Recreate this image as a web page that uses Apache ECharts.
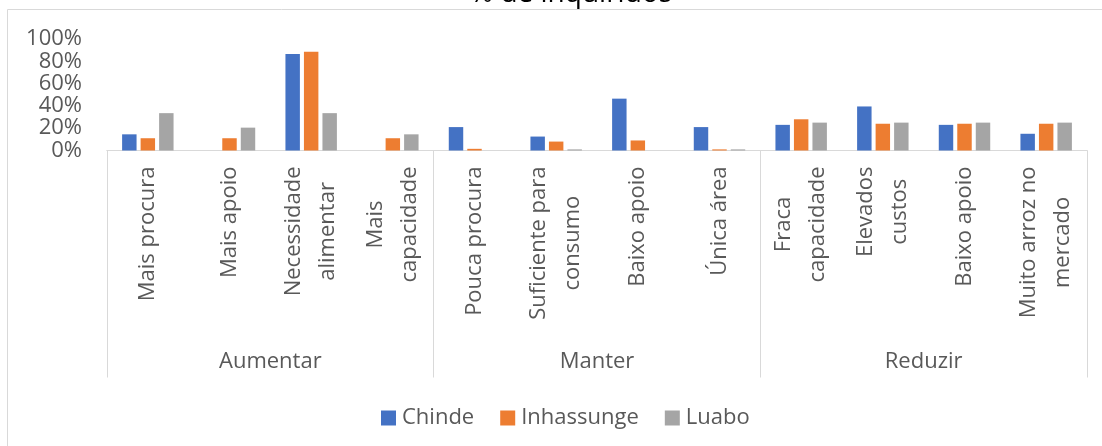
<!DOCTYPE html>
<html>
<head>
<meta charset="utf-8">
<script src="https://cdn.jsdelivr.net/npm/echarts@6/dist/echarts.min.js"></script>
<style>
html,body{margin:0;padding:0;background:#fff;}
#chart{width:1102px;height:446px;}
</style>
</head>
<body>
<div id="chart"></div>
<script>
var categories = ['Mais procura','Mais apoio','Necessidade\nalimentar','Mais\ncapacidade',
  'Pouca procura','Suficiente para\nconsumo','Baixo apoio','Única área',
  'Fraca\ncapacidade','Elevados\ncustos','Baixo apoio','Muito arroz no\nmercado'];
var groups = ['Aumentar','Manter','Reduzir'];
var chinde = [14.5, 0, 86.5, 0, 21, 12.5, 46.5, 21, 23, 39.5, 23, 15];
var inhassunge = [11, 11, 88.5, 11, 1.5, 8, 9, 1, 28, 24, 24, 24];
var luabo = [33.5, 20.5, 33.5, 14.5, 0, 1, 0, 1, 25, 25, 25, 25];
var yTicks = [0, 20, 40, 60, 80, 100];

var FONT = 'Open Sans';
var GRAY = '#595959';
var LINE = '#d9d9d9';

var chart = echarts.init(document.getElementById('chart'));
var mk = function(name, data, color){
  return {name: name, type: 'bar', data: data, xAxisIndex: 0,
    barGap: '28%', barCategoryGap: '37%', itemStyle: {color: color}};
};
chart.setOption({
  animation: false,
  title: {text: '% de inquiridos', left: 470, top: -20, padding: 0,
    textStyle: {fontFamily: FONT, fontSize: 28, fontWeight: 'normal', color: '#000'}},
  graphic: [{type: 'rect', silent: true,
    shape: {x: 7.5, y: 9.5, width: 1110, height: 460},
    style: {fill: 'none', stroke: LINE, lineWidth: 1}}],
  legend: {left: 381, top: 407, padding: 0, itemWidth: 15, itemHeight: 15, itemGap: 26,
    icon: 'rect',
    textStyle: {fontFamily: FONT, fontSize: 22, color: GRAY, padding: [0,0,0,1]},
    data: ['Chinde','Inhassunge','Luabo']},
  grid: {left: 107, right: 15, top: 39, height: 111.5, containLabel: false},
  yAxis: {type: 'value', min: yTicks[0], max: yTicks[yTicks.length-1], interval: 20,
    axisLine: {show: false}, axisTick: {show: false}, splitLine: {show: false},
    axisLabel: {formatter: '{value}%', margin: 25, fontFamily: FONT, fontSize: 22, color: GRAY}},
  xAxis: [{type: 'category', data: categories, position: 'bottom',
      axisLine: {show: true, lineStyle: {color: LINE}},
      axisTick: {show: false},
      axisLabel: {interval: 0, rotate: 90, margin: 16, color: GRAY,
        formatter: function(v){ return v.split('\n').map(function(l){return '{c|' + l + '}';}).join('\n'); },
        rich: {c: {align: 'center', fontFamily: FONT, fontSize: 22, color: GRAY, lineHeight: 34}}}},
    {type: 'category', data: groups, position: 'bottom', offset: 0,
      axisLine: {show: true, lineStyle: {color: LINE}},
      axisTick: {show: true, length: 227, lineStyle: {color: LINE}},
      axisLabel: {interval: 0, margin: 200, fontFamily: FONT, fontSize: 22, color: GRAY}}],
  series: [mk('Chinde', chinde, '#4472C4'), mk('Inhassunge', inhassunge, '#ED7D31'), mk('Luabo', luabo, '#A5A5A5')]
});
</script>
</body>
</html>
